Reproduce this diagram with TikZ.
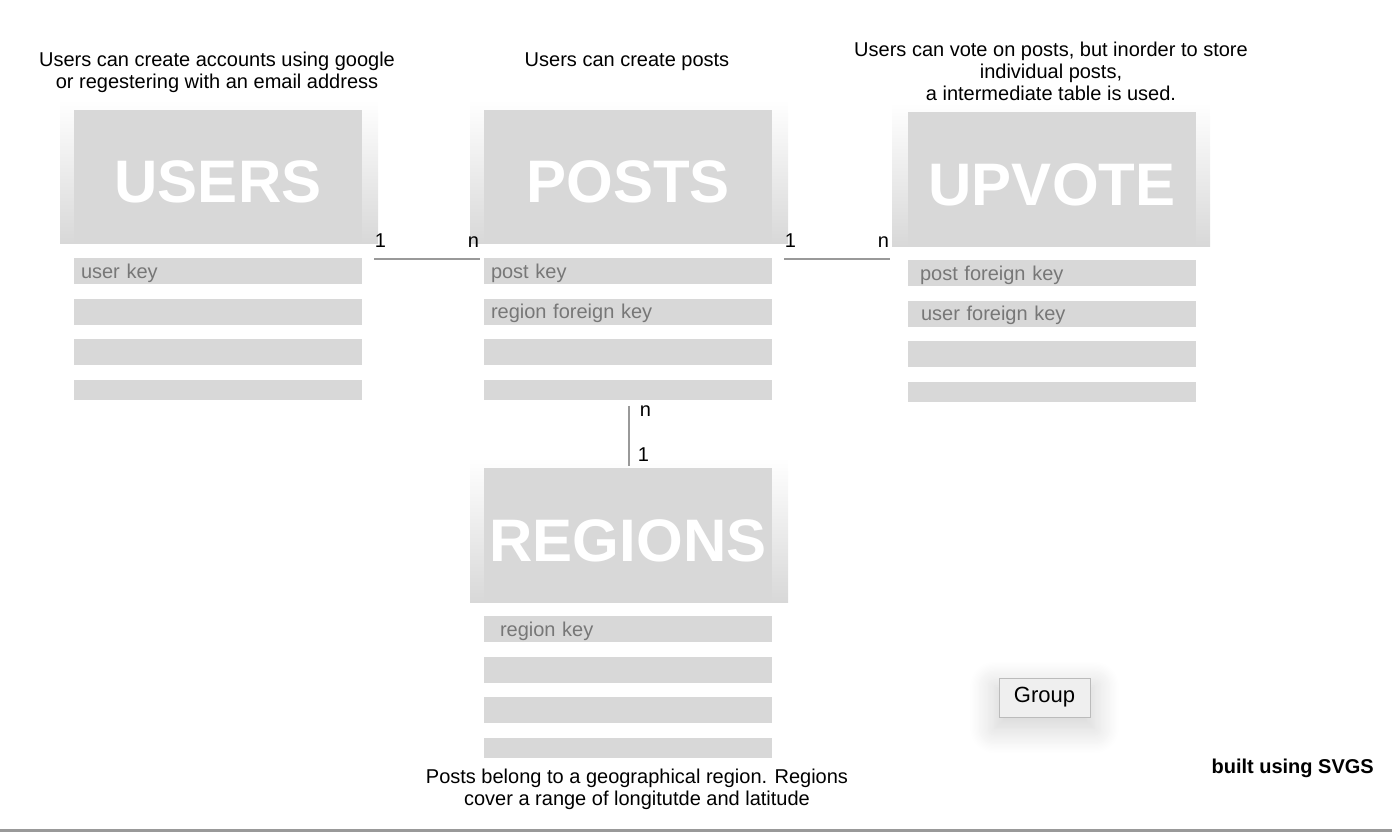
\documentclass[tikz,border=0pt]{standalone}
\usepackage{fontspec}
\setmainfont{Liberation Sans}
\usepackage{xcolor}
\usepackage{tikz}
\usetikzlibrary{positioning,shadows.blur}
\definecolor{boxgray}{HTML}{D8D8D8}
\definecolor{rowtext}{HTML}{777777}
\definecolor{linkgray}{HTML}{999999}
\definecolor{btnfill}{HTML}{EFEFEF}
\definecolor{btnline}{HTML}{BBBBBB}

\begin{document}
\begin{tikzpicture}[x=1pt, y=-1pt,
  tablehead/.style = {fill=boxgray, text=white, minimum width=288pt, minimum height=133pt,
    inner sep=0pt, text height=52pt, text depth=0pt, font=\fontsize{60}{60}\selectfont\bfseries},
  row/.style = {fill=boxgray, text=rowtext, text width=274pt, inner xsep=7pt, inner ysep=0pt,
    minimum height=26pt, text height=16pt, text depth=2pt, align=left, font=\fontsize{20}{24}\selectfont},
  lastrow/.style = {minimum height=20pt},
  note/.style = {align=center, inner sep=0pt, anchor=base, font=\fontsize{20}{22}\selectfont},
  card/.style = {inner sep=0pt, font=\fontsize{20}{20}\selectfont},
  link/.style = {draw=linkgray, line width=1.5pt},
  fade/.style = {top color=white, bottom color=boxgray, draw=none},
  button/.style = {fill=btnfill, draw=btnline, minimum width=91pt, minimum height=39pt, inner sep=0pt,
    font=\fontsize{22}{22}\selectfont,
    blur shadow={shadow xshift=0pt, shadow yshift=-9pt, shadow scale=1.1,
      shadow blur radius=22pt, shadow blur steps=20, shadow opacity=18}}]
  \useasboundingbox (0,0) rectangle (1392,832);

  % fading frames behind the heads
  \shade[fade] (60,100) rectangle (378,243);
  \shade[fade] (470,100) rectangle (788,243);
  \shade[fade] (892,103) rectangle (1210,246);
  \shade[fade] (470,458) rectangle (788,602);

  % table heads
  \node[tablehead] (users) at (218,176.5) {USERS};
  \node[tablehead] (posts) at (628,176.5) {POSTS};
  \node[tablehead, minimum height=134pt] (upvote) at (1052,179) {UPVOTE};
  \node[tablehead, minimum height=134pt] (regions) at (628,535) {REGIONS};

  % rows
  \node[row, below=15pt of users] (users1) {user key};
  \node[row, below=14pt of users1] (users2) {};
  \node[row, below=14pt of users2] (users3) {};
  \node[row, lastrow, below=14pt of users3] (users4) {};

  \node[row, below=15pt of posts] (posts1) {post key};
  \node[row, below=14pt of posts1] (posts2) {region foreign key};
  \node[row, below=14pt of posts2] (posts3) {};
  \node[row, lastrow, below=14pt of posts3] (posts4) {};

  \node[row, below=14pt of upvote] (upvote1) {\hspace*{5pt}post foreign key};
  \node[row, below=14pt of upvote1] (upvote2) {\hspace*{6pt}user foreign key};
  \node[row, below=14pt of upvote2] (upvote3) {};
  \node[row, lastrow, below=14pt of upvote3] (upvote4) {};

  \node[row, below=14pt of regions] (regions1) {\hspace*{9pt}region key};
  \node[row, below=14pt of regions1] (regions2) {};
  \node[row, below=14pt of regions2] (regions3) {};
  \node[row, lastrow, below=14pt of regions3] (regions4) {};

  % notes
  \node[note] (usersnote) at (217,89) {Users can create accounts using google\\or regestering with an email address};
  \node[note] (postsnote) at (627,67) {Users can create posts};
  \node[note] (upvotenote) at (1051,101) {Users can vote on posts, but inorder to store\\individual posts,\\a intermediate table is used.};
  \node[note] (regionsnote) at (637,805) {Posts belong to a geographical region. Regions\\cover a range of longitutde and latitude};

  % links
  \coordinate (usersout) at ([xshift=12pt,yshift=-16pt]users.south east);
  \coordinate (postsin) at ([xshift=-4pt,yshift=-16pt]posts.south west);
  \coordinate (postsout) at ([xshift=12pt,yshift=-16pt]posts.south east);
  \coordinate (upvotein) at ([xshift=-18pt,yshift=-13pt]upvote.south west);
  \coordinate (postsdown) at ([xshift=1pt,yshift=-6pt]posts4.south);
  \coordinate (regionsup) at ([xshift=1pt,yshift=2pt]regions.north);
  \begin{scope}[nodes = {card}]
    \draw[link] (usersout) -- (postsin)
      node[pos=0, anchor=base west, yshift=12pt] {1}
      node[pos=1, anchor=base east, yshift=12pt] {n};
    \draw[link] (postsout) -- (upvotein)
      node[pos=0, anchor=base west, yshift=12pt] {1}
      node[pos=1, anchor=base east, yshift=12pt] {n};
    \draw[link] (postsdown) -- (regionsup)
      node[pos=0, anchor=base west, xshift=10pt, yshift=-11pt] {n}
      node[pos=1, anchor=base west, xshift=8pt, yshift=4pt] {1};
  \end{scope}

  \node[button] (group) at (1044.5,697.5) {Group};
  \node[anchor=base east, inner sep=0pt, font=\fontsize{20}{20}\selectfont\bfseries] (built) at (1374,773) {built using SVGS};
  \draw[linkgray, line width=3pt] (0,830) -- (1392,830);
\end{tikzpicture}
\end{document}
